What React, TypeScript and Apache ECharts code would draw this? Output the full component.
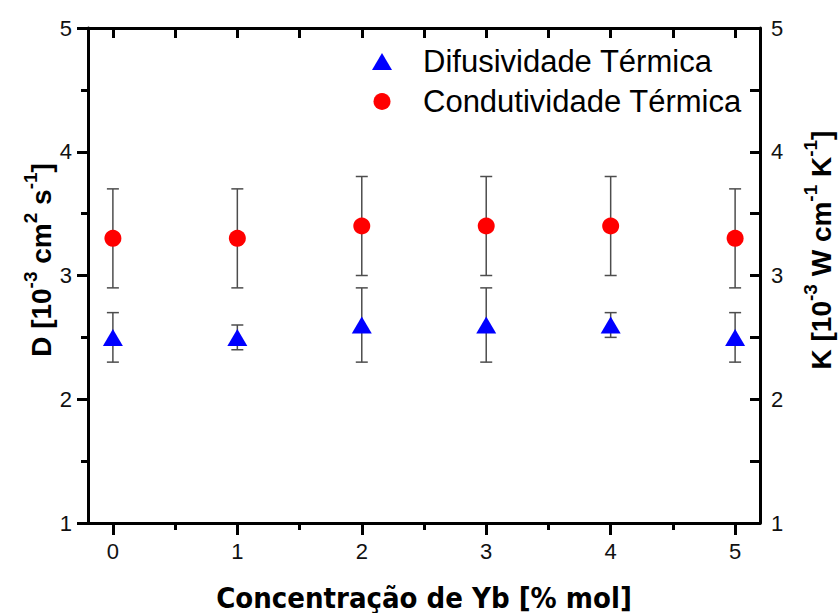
import React, { useEffect, useRef } from 'react';
import * as echarts from 'echarts';

const concentration = [0, 1, 2, 3, 4, 5];
const diffusivity = [2.5, 2.5, 2.6, 2.6, 2.6, 2.5];
const diffusivityLow = [2.3, 2.4, 2.3, 2.3, 2.5, 2.3];
const diffusivityHigh = [2.7, 2.6, 2.9, 2.9, 2.7, 2.7];
const conductivity = [3.3, 3.3, 3.4, 3.4, 3.4, 3.3];
const conductivityLow = [2.9, 2.9, 3.0, 3.0, 3.0, 2.9];
const conductivityHigh = [3.7, 3.7, 3.8, 3.8, 3.8, 3.7];
const xTicks = [0, 1, 2, 3, 4, 5];
const xMinorTicks = [0.5, 1.5, 2.5, 3.5, 4.5];
const seriesNames = ['Difusividade Térmica', 'Condutividade Térmica'];

const FONT = "Arial, 'Liberation Sans', sans-serif";
const allXTicks = [...xTicks, ...xMinorTicks].sort((a, b) => a - b);

function errorBarRender(params: any, api: any) {
  const x = api.value(0);
  const lo = api.value(1);
  const hi = api.value(2);
  const pLo = api.coord([x, lo]);
  const pHi = api.coord([x, hi]);
  const hw = 6;
  const style = { stroke: '#4d4d4d', lineWidth: 1.5 };
  return {
    type: 'group',
    children: [
      { type: 'line', shape: { x1: pLo[0], y1: pLo[1], x2: pHi[0], y2: pHi[1] }, style },
      { type: 'line', shape: { x1: pLo[0] - hw, y1: pLo[1], x2: pLo[0] + hw, y2: pLo[1] }, style },
      { type: 'line', shape: { x1: pHi[0] - hw, y1: pHi[1], x2: pHi[0] + hw, y2: pHi[1] }, style },
    ],
  };
}

const titleRich = {
  m: { fontSize: 28, fontWeight: 'bold', fontFamily: FONT, fill: '#000', color: '#000', verticalAlign: 'bottom', lineHeight: 34 },
  s: { fontSize: 19, fontWeight: 'bold', fontFamily: FONT, fill: '#000', color: '#000', verticalAlign: 'top', lineHeight: 19 },
};

export default function App() {
  const ref = useRef<HTMLDivElement>(null);
  useEffect(() => {
    if (!ref.current) return;
    const chart = echarts.init(ref.current, null, { renderer: 'svg' });
    const axisLine = { show: true, onZero: false, lineStyle: { color: '#000', width: 3 } };
    const labelStyle = { fontFamily: FONT, fontSize: 22, color: '#111' };
    chart.setOption({
      animation: false,
      backgroundColor: '#fff',
      grid: { left: 88, right: 78, top: 28, bottom: 90, containLabel: false, outerBoundsMode: 'none' },
      legend: {
        data: seriesNames,
        orient: 'vertical',
        left: 367,
        top: 41,
        itemWidth: 20,
        itemHeight: 17,
        itemGap: 9,
        textStyle: { fontFamily: FONT, fontSize: 31, color: '#000', lineHeight: 30, padding: [0, 0, 0, 26] },
      },
      xAxis: [
        {
          type: 'value', position: 'bottom', min: -0.2, max: 5.2,
          axisLine,
          axisTick: { show: true, customValues: xTicks, length: 12, lineStyle: { width: 3, color: '#000' } },
          axisLabel: { show: true, customValues: xTicks, margin: 17, ...labelStyle },
          splitLine: { show: false },
          name: 'Concentração de Yb [% mol]',
          nameLocation: 'middle',
          nameGap: 60,
          nameTextStyle: { fontFamily: "'DejaVu Sans Condensed', 'Liberation Sans Narrow', Arial", fontWeight: 'bold', fontSize: 29, color: '#000' },
        },
        {
          type: 'value', position: 'bottom', min: -0.2, max: 5.2,
          axisLine: { show: false },
          axisTick: { show: true, customValues: xMinorTicks, length: 7, lineStyle: { width: 3, color: '#000' } },
          axisLabel: { show: false },
          splitLine: { show: false },
        },
        {
          type: 'value', position: 'top', min: -0.2, max: 5.2,
          axisLine,
          axisTick: { show: true, inside: true, customValues: allXTicks, length: 10, lineStyle: { width: 3, color: '#000' } },
          axisLabel: { show: false },
          splitLine: { show: false },
        },
      ],
      yAxis: [
        {
          type: 'value', position: 'left', min: 1, max: 5, interval: 1,
          axisLine,
          axisTick: { show: true, length: 11, lineStyle: { width: 3, color: '#000' } },
          minorTick: { show: true, splitNumber: 2, length: 7, lineStyle: { width: 3, color: '#000' } },
          axisLabel: { margin: 16, ...labelStyle },
          splitLine: { show: false },
          minorSplitLine: { show: false },
        },
        {
          type: 'value', position: 'right', min: 1, max: 5, interval: 1,
          axisLine,
          axisTick: { show: true, inside: true, length: 10, lineStyle: { width: 3, color: '#000' } },
          minorTick: { show: true, splitNumber: 2, length: 10, lineStyle: { width: 3, color: '#000' } },
          axisLabel: { margin: 11, ...labelStyle },
          splitLine: { show: false },
          minorSplitLine: { show: false },
        },
      ],
      graphic: [
        {
          type: 'text', x: 38, y: 260, rotation: Math.PI / 2,
          style: {
            text: '{m|D [10}{s|-3}{m| cm}{s|2}{m| s}{s|-1}{m|]}',
            rich: titleRich, align: 'center', verticalAlign: 'middle', fill: '#000',
          },
        },
        {
          type: 'text', x: 818, y: 250, rotation: Math.PI / 2,
          style: {
            text: '{m|K [10}{s|-3}{m| W cm}{s|-1}{m| K}{s|-1}{m|]}',
            rich: titleRich, align: 'center', verticalAlign: 'middle', fill: '#000',
          },
        },
      ],
      series: [
        {
          type: 'custom', name: 'errD', xAxisIndex: 0, yAxisIndex: 0, z: 1,
          renderItem: errorBarRender,
          encode: { x: 0, y: [1, 2] },
          data: concentration.map((x, i) => [x, diffusivityLow[i], diffusivityHigh[i]]),
          silent: true,
        },
        {
          type: 'custom', name: 'errK', xAxisIndex: 0, yAxisIndex: 1, z: 1,
          renderItem: errorBarRender,
          encode: { x: 0, y: [1, 2] },
          data: concentration.map((x, i) => [x, conductivityLow[i], conductivityHigh[i]]),
          silent: true,
        },
        {
          type: 'scatter', name: seriesNames[0], xAxisIndex: 0, yAxisIndex: 0, z: 3,
          symbol: 'triangle', symbolSize: [20, 17],
          itemStyle: { color: '#0000ff', opacity: 1 },
          data: concentration.map((x, i) => [x, diffusivity[i]]),
        },
        {
          type: 'scatter', name: seriesNames[1], xAxisIndex: 0, yAxisIndex: 1, z: 3,
          symbol: 'circle', symbolSize: 17,
          itemStyle: { color: '#ff0000', opacity: 1 },
          data: concentration.map((x, i) => [x, conductivity[i]]),
        },
      ],
    });
    return () => chart.dispose();
  }, []);
  return <div ref={ref} style={{ position: 'fixed', left: 0, top: 0, width: 838, height: 613 }} />;
}
